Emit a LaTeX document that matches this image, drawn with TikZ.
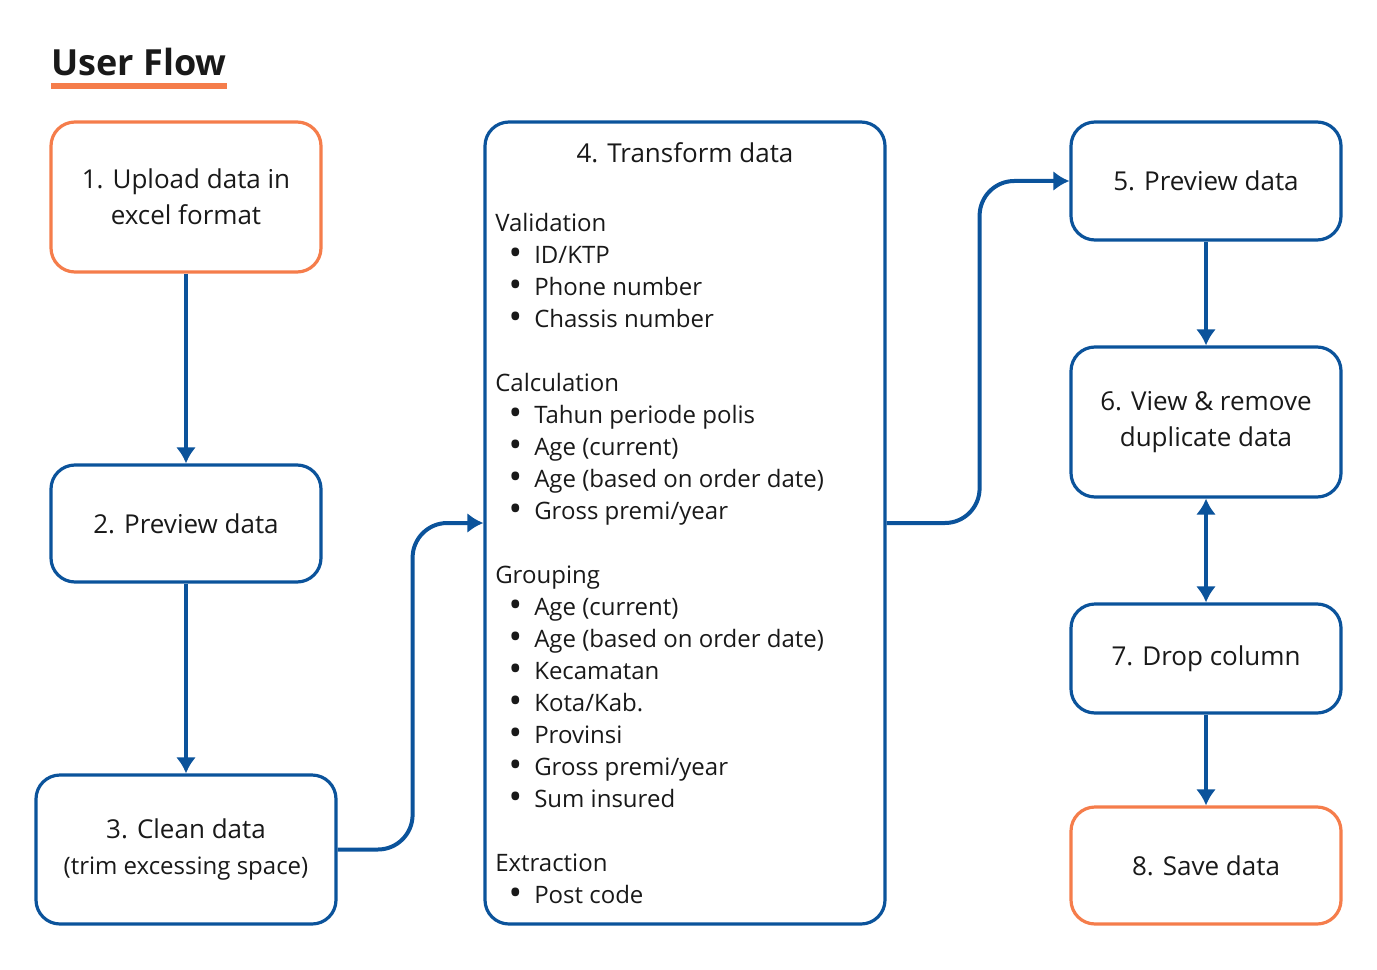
\documentclass[tikz,border=0pt]{standalone}
\usepackage{fontspec}
\setmainfont{Open Sans}
\usetikzlibrary{positioning,arrows.meta}
\definecolor{flowblue}{RGB}{11,83,155}
\definecolor{floworange}{RGB}{245,125,75}
\tikzset{
  >={Latex[length=12pt,width=15pt]},
}
\tikzstyle{every node}=[font=\fontsize{19.5}{27}\selectfont,text=black!90]
\tikzstyle{box}=[draw=flowblue,line width=2.4pt,rounded corners=18pt,align=center]
\tikzstyle{endbox}=[box,draw=floworange]
\tikzstyle{flow}=[draw=flowblue,line width=3pt,->]
\newcommand{\itm}[1]{\makebox[29.25pt][r]{\smash{\raisebox{-1.6pt}{\scalebox{1.5}{\textbullet}}}\hspace{9pt}}#1}

\begin{document}
\begin{tikzpicture}[x=0.75pt,y=-0.75pt]
    \useasboundingbox (0,0) rectangle (1377,970);
    % title
    \node[anchor=base west,inner sep=0pt,font=\fontsize{27}{32}\selectfont\bfseries] (title) at (51,76) {User Flow};
    \draw[floworange,line width=4.5pt] ([yshift=-7.5pt]title.base west) -- ([yshift=-7.5pt]title.base east);
    % left column
    \node[endbox,minimum width=202.5pt,minimum height=112.5pt] (upload) at (186,197) {1. Upload data in\\excel format};
    \node[box,minimum width=202.5pt,minimum height=87.75pt] (preview) at (186,523.5) {2. Preview data};
    \node[box,minimum width=225pt,minimum height=111.75pt] (clean) at (186,849.5) {3. Clean data\\{\fontsize{18}{25}\selectfont (trim excessing space)}};
    % transform
    \node[box,minimum width=300pt,minimum height=601.5pt] (transform) at (685,523) {};
    \node[anchor=base] (transformtitle) at (685,163) {4. Transform data};
    \node[anchor=north west,align=left,inner sep=0pt,font=\fontsize{18}{24}\selectfont] (rules) at (495,213) {Validation\\
      \itm{ID/KTP}\\
      \itm{Phone number}\\
      \itm{Chassis number}\\[24pt]
      Calculation\\
      \itm{Tahun periode polis}\\
      \itm{Age (current)}\\
      \itm{Age (based on order date)}\\
      \itm{Gross premi/year}\\[24pt]
      Grouping\\
      \itm{Age (current)}\\
      \itm{Age (based on order date)}\\
      \itm{Kecamatan}\\
      \itm{Kota/Kab.}\\
      \itm{Provinsi}\\
      \itm{Gross premi/year}\\
      \itm{Sum insured}\\[24pt]
      Extraction\\
      \itm{Post code}};
    % right column
    \node[box,minimum width=202.5pt,minimum height=88.5pt] (preview2) at (1206,181) {5. Preview data};
    \node[box,minimum width=202.5pt,minimum height=112.5pt] (dedup) at (1206,422) {6. View \& remove\\duplicate data};
    \node[box,minimum width=202.5pt,minimum height=81.75pt] (drop) at (1206,658.5) {7. Drop column};
    \node[endbox,minimum width=202.5pt,minimum height=87.75pt] (save) at (1206,865.5) {8. Save data};
    % connectors
    \draw[flow] (upload) -- (preview);
    \draw[flow] (preview) -- (clean);
    \draw[flow,rounded corners=26pt] (clean.east) -- ++(75,0) |- (transform.west);
    \draw[flow,rounded corners=26pt] (transform.east) -- ++(93,0) |- (preview2.west);
    \draw[flow] (preview2) -- (dedup);
    \draw[flow,<->] (dedup) -- (drop);
    \draw[flow] (drop) -- (save);
\end{tikzpicture}
\end{document}
